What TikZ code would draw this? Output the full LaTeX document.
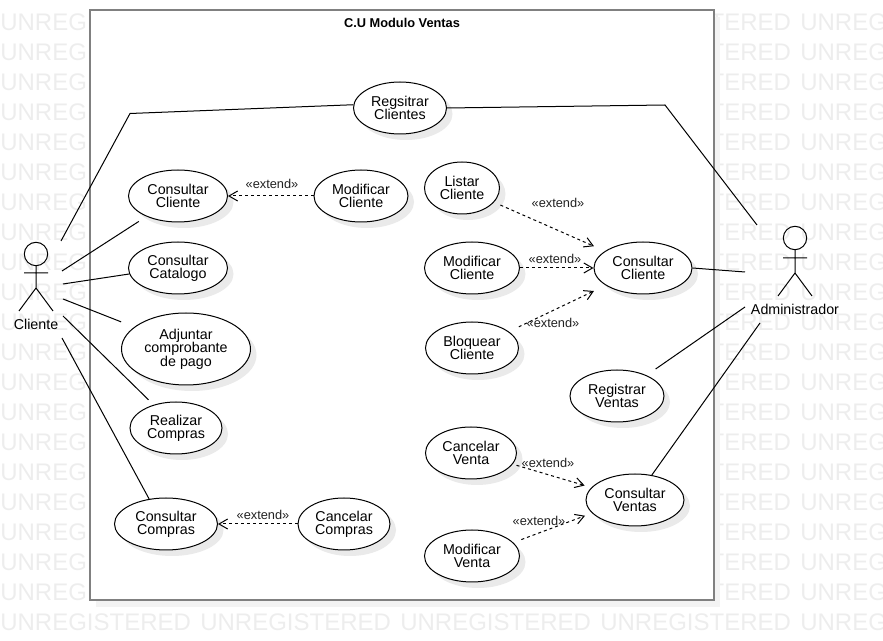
\documentclass[tikz,border=0pt]{standalone}
\usepackage{fontspec}
\setmainfont{Liberation Sans}
\usetikzlibrary{shapes.geometric,shadows,arrows.meta}
\definecolor{MarkClr}{HTML}{EDEDED}
\definecolor{PanelClr}{HTML}{808080}
\definecolor{PanelShade}{HTML}{F3F3F3}
\definecolor{CaseShade}{HTML}{EAEAEA}
\definecolor{LabelClr}{HTML}{222222}
\tikzset{
  usecase/.style 2 args={ellipse,draw,fill=white,line width=.75pt,inner sep=0pt,align=center,
    font=\fontsize{10.7}{10}\selectfont,minimum width=#1*.75pt,minimum height=#2*.75pt,
    drop shadow={shadow xshift=4.5pt,shadow yshift=-4.5pt,opacity=1,fill=CaseShade}},
  assoc/.style={line width=.75pt},
  extend/.style={line width=.75pt,dash pattern=on 2.25pt off 2.25pt,-{Straight Barb[length=6.5pt,width=7.5pt]}},
  extlabel/.style={font=\fontsize{9.6}{11}\selectfont,text=LabelClr,inner sep=0pt},
  actorlabel/.style={font=\fontsize{10.7}{11}\selectfont,inner sep=0pt},
  markword/.style={anchor=base west,inner sep=0pt,text=MarkClr,font=\fontsize{18}{20}\selectfont}
}

\begin{document}
\begin{tikzpicture}[x=.75pt,y=-.75pt]
\useasboundingbox (0,0) rectangle (883,641);
\clip (0,0) rectangle (883,641);

\foreach \r in {0,...,20}
  \foreach \c in {0,...,4}
    \node[markword,name=mark\r\c] at (\c*200,30.5+\r*30) {UNREGISTERED};

\node[draw=PanelClr,line width=1.5pt,fill=white,minimum width=468pt,minimum height=442.5pt,inner sep=0pt,
  drop shadow={shadow xshift=4.5pt,shadow yshift=-5pt,opacity=1,fill=PanelShade}] (Panel) at (402,305) {};
\node[inner sep=0pt,font=\fontsize{9.6}{11}\selectfont\bfseries] (Title) at (402,23) {C.U Modulo Ventas};

\node[usecase={93}{52}] (RegCli) at (400,108) {Regsitrar\\Clientes};
\node[usecase={99}{52}] (ConCliL) at (178,196) {Consultar\\Cliente};
\node[usecase={94}{52}] (ModCliL) at (361,196) {Modificar\\Cliente};
\node[usecase={99}{52}] (ConCat) at (178,268) {Consultar\\Catalogo};
\node[usecase={129}{72}] (AdjCom) at (186,349) {Adjuntar\\comprobante\\de pago};
\node[usecase={92}{52}] (RealCom) at (176,428) {Realizar\\Compras};
\node[usecase={103}{52}] (ConCom) at (166,524) {Consultar\\Compras};
\node[usecase={92}{52}] (CanCom) at (344,524) {Cancelar\\Compras};
\node[usecase={75}{52}] (LisCli) at (462,188) {Listar\\Cliente};
\node[usecase={95}{52}] (ModCliR) at (472,268) {Modificar\\Cliente};
\node[usecase={98}{52}] (ConCliR) at (643,268) {Consultar\\Cliente};
\node[usecase={93}{52}] (BloCli) at (472,348) {Bloquear\\Cliente};
\node[usecase={94}{52}] (RegVen) at (617,396) {Registrar\\Ventas};
\node[usecase={91}{52}] (CanVen) at (471,453) {Cancelar\\Venta};
\node[usecase={95}{52}] (ModVen) at (472,556) {Modificar\\Venta};
\node[usecase={98}{52}] (ConVen) at (635,500) {Consultar\\Ventas};

\draw[assoc] (36,254) circle (11.7);
\draw[assoc] (36,265.7) -- (36,288) (24,273) -- (48,273) (19,311) -- (36,288) -- (53,311);
\node[actorlabel] (Cliente) at (36,324) {Cliente};

\draw[assoc] (795,238) circle (11.7);
\draw[assoc] (795,249.7) -- (795,273) (783,258) -- (807,258) (778,296) -- (795,273) -- (812,296);
\node[actorlabel] (Admin) at (795,309.5) {Administrador};

\coordinate (CliA) at (61,241);
\coordinate (CliB) at (62,271);
\coordinate (CliC) at (63,284);
\coordinate (CliD) at (63,299);
\coordinate (CliE) at (63,316);
\coordinate (CliF) at (62,338);
\coordinate (AdmA) at (757,225);
\coordinate (AdmB) at (745,272);
\coordinate (AdmC) at (745,307);
\coordinate (AdmD) at (760,323);

\draw[assoc] (CliA) -- (130,113.5) -- (RegCli.176);
\draw[assoc,shorten >=6.75pt] (CliB) -- (ConCliL.213);
\draw[assoc] (CliC) -- (ConCat.187);
\draw[assoc,shorten >=10.5pt] (CliD) -- (AdjCom.157.6);
\draw[assoc,shorten >=5.25pt] (CliE) -- (RealCom.134);
\draw[assoc] (CliF) -- (ConCom.124);

\draw[assoc] (RegCli.east) -- (665,105) -- (AdmA);
\draw[assoc] (ConCliR.east) -- (AdmB);
\draw[assoc,shorten <=8.25pt] (RegVen.35.5) -- (AdmC);
\draw[assoc] (ConVen.56) -- (AdmD);

\draw[extend] (ModCliL.west) -- (ConCliL.east);
\draw[extend] (CanCom.west) -- (ConCom.east);
\draw[extend,shorten <=5.25pt,shorten >=9pt] (LisCli.336) -- (ConCliR.156);
\draw[extend] (ModCliR.east) -- (ConCliR.west);
\draw[extend,shorten <=8.25pt,shorten >=9.75pt] (BloCli.24) -- (ConCliR.205);
\draw[extend,shorten <=3pt,shorten >=5.25pt] (CanVen.345) -- (ConVen.164);
\draw[extend,shorten <=6.4pt,shorten >=5.6pt] (ModVen.18) -- (ConVen.197);

\node[extlabel] (ExtA) at (272,184) {«extend»};
\node[extlabel] (ExtB) at (263,515) {«extend»};
\node[extlabel] (ExtC) at (558,203) {«extend»};
\node[extlabel] (ExtD) at (555,259) {«extend»};
\node[extlabel] (ExtE) at (553,323) {«extend»};
\node[extlabel] (ExtF) at (548,463) {«extend»};
\node[extlabel] (ExtG) at (539,521) {«extend»};

\end{tikzpicture}
\end{document}
